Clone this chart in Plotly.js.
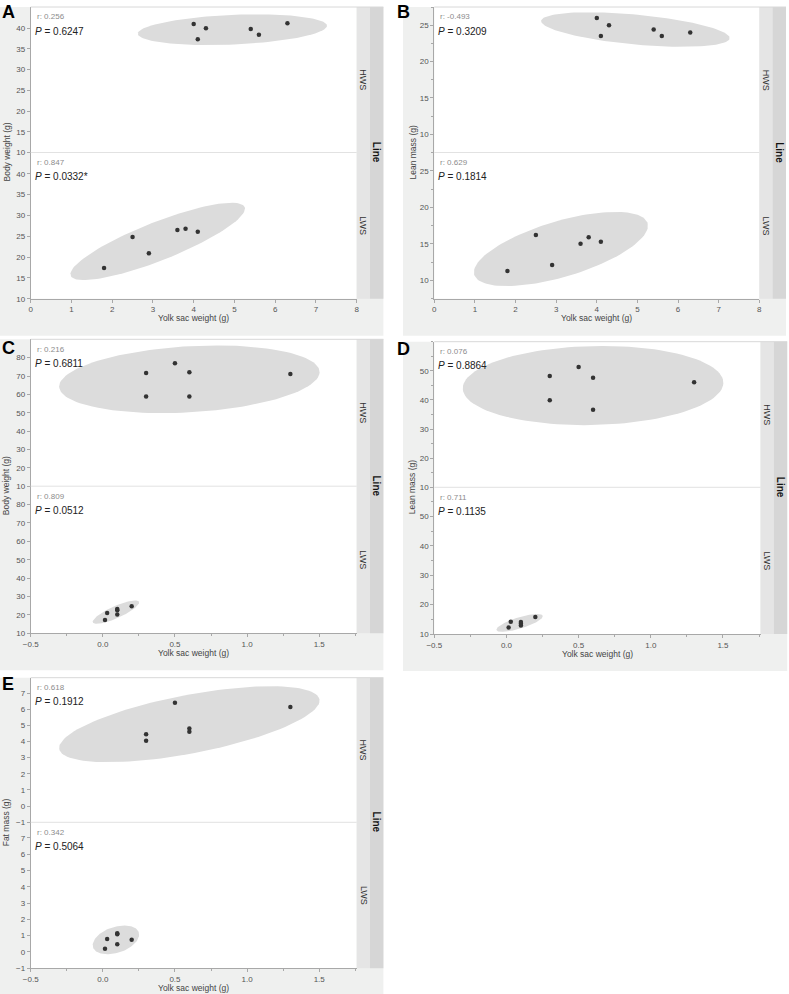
<!DOCTYPE html>
<html><head><meta charset="utf-8">
<script src="https://cdn.plot.ly/plotly-3.0.1.min.js"></script>
<style>html,body{margin:0;padding:0;background:#fff}</style>
</head><body><div id="chart" style="width:789px;height:994px"></div>
<script>
// ---------- data ----------
const hwsYolkAB = [4.0, 4.3, 4.1, 5.4, 5.6, 6.3];
const lwsYolkAB = [1.8, 2.5, 2.9, 3.6, 3.8, 4.1];
const hwsBodyA  = [41.0, 40.0, 37.3, 39.8, 38.4, 41.2];
const lwsBodyA  = [17.4, 24.8, 20.9, 26.5, 26.8, 26.1];
const hwsLeanB  = [26.0, 25.0, 23.5, 24.4, 23.5, 24.0];
const lwsLeanB  = [11.3, 16.2, 12.1, 15.0, 15.9, 15.3];

const hwsYolkCDE = [0.3, 0.3, 0.5, 0.6, 0.6, 1.3];
const lwsYolkCDE = [0.015, 0.03, 0.1, 0.1, 0.1, 0.2];
const hwsBodyC  = [71.6, 58.9, 76.9, 72.0, 58.9, 71.1];
const lwsBodyC  = [17.3, 21.1, 23.2, 22.6, 20.2, 24.7];
const hwsLeanD  = [48.2, 39.9, 51.3, 47.6, 36.6, 46.1];
const lwsLeanD  = [12.2, 14.2, 14.1, 13.5, 12.9, 15.8];
const hwsFatE   = [4.45, 4.05, 6.4, 4.8, 4.6, 6.13];
const lwsFatE   = [0.2, 0.8, 1.15, 1.08, 0.48, 0.75];

const rLabels = ['r: 0.256','r: 0.847','r: -0.493','r: 0.629','r: 0.216','r: 0.809','r: 0.076','r: 0.711','r: 0.618','r: 0.342'];
const pLabels = ['0.6247','0.0332*','0.3209','0.1814','0.6811','0.0512','0.8864','0.1135','0.1912','0.5064'];
const groupLabels = ['HWS','LWS'];
const panelLetters = ['A','B','C','D','E'];
const yTitles = ['Body weight (g)','Lean mass (g)','Body weight (g)','Lean mass (g)','Fat mass (g)'];
const xTitle = 'Yolk sac weight (g)';
const stripTitle = 'Line';

const yTicksA = [10,15,20,25,30,35,40];
const yTicksB = [10,15,20,25];
const yTicksC = [10,20,30,40,50,60,70,80];
const yTicksD = [10,20,30,40,50];
const yTicksE = [-1,0,1,2,3,4,5,6,7];
const xTicksAB = [0,1,2,3,4,5,6,7,8];
const xTicksCDE = [-0.5,0,0.5,1,1.5];

// ---------- layout geometry ----------
const W = 789, H = 994;
const fx = p => p / W, fy = p => 1 - p / H;
const FONT = 'Liberation Sans, Arial, sans-serif';

const panels = [
  {L:30.7, R:356.7, T:7,     M:152.5, B:298.7, bgL:0,   yr:[10,45.1], yt:yTicksA, ymin:null, xr:[0,8], xt:xTicksAB, xfmt:'', xmin:null,
   hx:hwsYolkAB, hy:hwsBodyA, lx:lwsYolkAB, ly:lwsBodyA, ylabX:6, letY:11.5},
  {L:434.3, R:759.3, T:7,    M:152.5, B:298.7, bgL:403, yr:[7.5,27.5], yt:yTicksB, ymin:2.5, xr:[0,8], xt:xTicksAB, xfmt:'', xmin:null,
   hx:hwsYolkAB, hy:hwsLeanB, lx:lwsYolkAB, ly:lwsLeanB, ylabX:412, letY:11.5},
  {L:30.7, R:356.7, T:339.3, M:486.2, B:633.3, bgL:0,   yr:[10,90], yt:yTicksC, ymin:null, xr:[-0.5,1.76], xt:xTicksCDE, xfmt:'.1f', xmin:0.25,
   hx:hwsYolkCDE, hy:hwsBodyC, lx:lwsYolkCDE, ly:lwsBodyC, ylabX:6, letY:348},
  {L:434.3, R:760.5, T:341.7, M:487.3, B:634, bgL:403, yr:[10,60], yt:yTicksD, ymin:5, xr:[-0.5,1.76], xt:xTicksCDE, xfmt:'.1f', xmin:0.25,
   hx:hwsYolkCDE, hy:hwsLeanD, lx:lwsYolkCDE, ly:lwsLeanD, ylabX:412, letY:348.5},
  {L:30.7, R:356.7, T:677.7, M:822.3, B:968.3, bgL:0,   yr:[-1,7.95], yt:yTicksE, ymin:null, xr:[-0.5,1.76], xt:xTicksCDE, xfmt:'.1f', xmin:0.25,
   hx:hwsYolkCDE, hy:hwsFatE, lx:lwsYolkCDE, ly:lwsFatE, ylabX:6, letY:684}
];

// 95% bivariate-normal density ellipse computed from the points
function densityEllipse(xs, ys) {
  const n = xs.length;
  const mx = xs.reduce((a,b)=>a+b,0)/n, my = ys.reduce((a,b)=>a+b,0)/n;
  let sxx=0, syy=0, sxy=0;
  for (let i=0;i<n;i++){ const dx=xs[i]-mx, dy=ys[i]-my; sxx+=dx*dx; syy+=dy*dy; sxy+=dx*dy; }
  sxx/=(n-1); syy/=(n-1); sxy/=(n-1);
  const tr=sxx+syy, det=sxx*syy-sxy*sxy, disc=Math.sqrt(Math.max(tr*tr/4-det,0));
  const l1=tr/2+disc, l2=Math.max(tr/2-disc,0);
  const th=0.5*Math.atan2(2*sxy, sxx-syy);
  const c=Math.sqrt(5.991);
  const ex=[], ey=[];
  for (let k=0;k<=120;k++){
    const t=2*Math.PI*k/120;
    const u=c*Math.sqrt(l1)*Math.cos(t), v=c*Math.sqrt(l2)*Math.sin(t);
    ex.push(mx+u*Math.cos(th)-v*Math.sin(th));
    ey.push(my+u*Math.sin(th)+v*Math.cos(th));
  }
  return {x:ex, y:ey};
}

const traces = [], shapes = [], annotations = [];
const layout = {
  width: W, height: H, margin:{l:0,r:0,t:0,b:0},
  paper_bgcolor:'#ffffff', plot_bgcolor:'#ffffff', showlegend:false,
  font:{family:FONT, size:8, color:'#555'}
};

const tickCol = '#a8a8a8', lineCol = '#a8a8a8';
let idx = 0;
panels.forEach((p, pi) => {
  // panel background + white plot + strips
  shapes.push({type:'rect', xref:'paper', yref:'paper', layer:'below',
    x0:fx(p.bgL), x1:fx(p.R+26.7), y0:fy(p.T), y1:fy(p.B+37), fillcolor:'#eff0ef', line:{width:0}});
  shapes.push({type:'rect', xref:'paper', yref:'paper', layer:'below',
    x0:fx(p.L), x1:fx(p.R), y0:fy(p.T), y1:fy(p.B), fillcolor:'#ffffff', line:{width:0}});
  shapes.push({type:'rect', xref:'paper', yref:'paper', layer:'below',
    x0:fx(p.R), x1:fx(p.R+13.3), y0:fy(p.T), y1:fy(p.B), fillcolor:'#e5e5e5', line:{width:0}});
  shapes.push({type:'rect', xref:'paper', yref:'paper', layer:'below',
    x0:fx(p.R+13.3), x1:fx(p.R+26.7), y0:fy(p.T), y1:fy(p.B), fillcolor:'#d6d6d6', line:{width:0}});
  shapes.push({type:'line', xref:'paper', yref:'paper', layer:'above',
    x0:fx(p.L), x1:fx(p.R), y0:fy(p.M), y1:fy(p.M), line:{color:'#e2e2e2', width:1}});
  shapes.push({type:'line', xref:'paper', yref:'paper', layer:'above',
    x0:fx(p.L), x1:fx(p.R+26.7), y0:fy(p.T), y1:fy(p.T), line:{color:'#d8d8d8', width:1}});

  const groups = [
    {x:p.hx, y:p.hy, top:p.T, bot:p.M},
    {x:p.lx, y:p.ly, top:p.M, bot:p.B}
  ];
  groups.forEach((g, gi) => {
    idx++;
    const xa = idx===1 ? 'xaxis' : 'xaxis'+idx;
    const ya = idx===1 ? 'yaxis' : 'yaxis'+idx;
    const xr = idx===1 ? 'x' : 'x'+idx;
    const yr = idx===1 ? 'y' : 'y'+idx;
    const isBottom = gi===1;
    layout[xa] = {
      domain:[fx(p.L), fx(p.R)], range:p.xr, anchor:yr,
      showgrid:false, zeroline:false,
      showline:isBottom, linecolor:lineCol, linewidth:1,
      ticks:isBottom?'outside':'', ticklen:3, tickcolor:tickCol,
      tickvals:p.xt, tickformat:p.xfmt, showticklabels:isBottom,
      ticklabelstandoff:0,
      tickfont:{family:FONT, size:8, color:'#555'}
    };
    if (isBottom && p.xmin) layout[xa].minor = {dtick:p.xmin, tick0:-0.5, ticks:'outside', ticklen:2, tickcolor:tickCol};
    layout[ya] = {
      domain:[fy(g.bot), fy(g.top)], range:p.yr, anchor:xr,
      showgrid:false, zeroline:false, showline:true, linecolor:lineCol, linewidth:1,
      ticks:'outside', ticklen:3, tickcolor:tickCol, tickvals:p.yt,
      tickfont:{family:FONT, size:8, color:'#555'}
    };
    if (p.ymin) layout[ya].minor = {dtick:p.ymin, tick0:p.yr[0], ticks:'outside', ticklen:2, tickcolor:tickCol};

    const e = densityEllipse(g.x, g.y);
    traces.push({type:'scatter', mode:'lines', x:e.x, y:e.y, xaxis:xr, yaxis:yr,
      fill:'toself', fillcolor:'#dcdcdc', line:{width:0, color:'rgba(0,0,0,0)'}, hoverinfo:'skip', cliponaxis:true});
    traces.push({type:'scatter', mode:'markers', x:g.x, y:g.y, xaxis:xr, yaxis:yr,
      marker:{size:4.5, color:'#333333'}, cliponaxis:false});

    const k = pi*2+gi;
    annotations.push({xref:'paper', yref:'paper', x:fx(p.L+4), y:fy(g.top+10), xanchor:'left', yanchor:'middle',
      text:rLabels[k], showarrow:false, font:{family:FONT, size:8, color:'#8c8c8c'}});
    annotations.push({xref:'paper', yref:'paper', x:fx(p.L+2), y:fy(g.top+24), xanchor:'left', yanchor:'middle',
      text:'<i>P</i> = '+pLabels[k], showarrow:false, font:{family:FONT, size:10, color:'#222'}});
    annotations.push({xref:'paper', yref:'paper', x:fx(p.R+6.7), y:fy((g.top+g.bot)/2), xanchor:'center', yanchor:'middle',
      text:groupLabels[gi], textangle:90, showarrow:false, font:{family:FONT, size:9, color:'#333'}});
  });

  annotations.push({xref:'paper', yref:'paper', x:fx(p.R+20), y:fy(p.M), xanchor:'center', yanchor:'middle',
    text:'<b>'+stripTitle+'</b>', textangle:90, showarrow:false, font:{family:FONT, size:10, color:'#111'}});
  annotations.push({xref:'paper', yref:'paper', x:fx(p.ylabX), y:fy(p.M), xanchor:'center', yanchor:'middle',
    text:yTitles[pi], textangle:-90, showarrow:false, font:{family:FONT, size:8.5, color:'#444'}});
  annotations.push({xref:'paper', yref:'paper', x:fx((p.L+p.R)/2), y:fy(p.B+19.5), xanchor:'center', yanchor:'middle',
    text:xTitle, showarrow:false, font:{family:FONT, size:8.5, color:'#444'}});
  annotations.push({xref:'paper', yref:'paper', x:fx(p.bgL===0?0:395), y:fy(p.letY), xanchor:'left', yanchor:'middle',
    text:'<b>'+panelLetters[pi]+'</b>', showarrow:false, font:{family:FONT, size:18, color:'#000'}});
});

layout.shapes = shapes;
layout.annotations = annotations;
Plotly.newPlot('chart', traces, layout, {staticPlot:true, displayModeBar:false});
</script>
</body></html>
